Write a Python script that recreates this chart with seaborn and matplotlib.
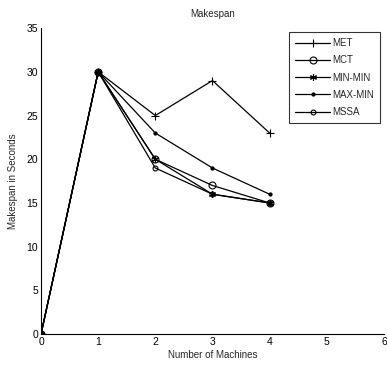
import matplotlib
matplotlib.use("Agg")
import matplotlib.pyplot as plt
import seaborn as sns
import pandas as pd

machines = [0, 1, 2, 3, 4]
met = [0, 30, 25, 29, 23]
mct = [0, 30, 20, 17, 15]
minmin = [0, 30, 20, 16, 15]
maxmin = [0, 30, 23, 19, 16]
mssa = [0, 30, 19, 16, 15]
series_names = ["MET", "MCT", "MIN-MIN", "MAX-MIN", "MSSA"]
series_values = [met, mct, minmin, maxmin, mssa]

rows = []
for name, vals in zip(series_names, series_values):
    for m, v in zip(machines, vals):
        rows.append({"Machines": m, "Makespan": v, "Algorithm": name})
df = pd.DataFrame(rows)

sns.set_theme(style="white")
plt.rcParams['font.family'] = ['Liberation Sans', 'DejaVu Sans']

fig = plt.figure(figsize=(3.87, 3.7), dpi=100)
ax = fig.add_axes([0.106, 0.097, 0.886, 0.827])

markers = {"MET": "+", "MCT": "o", "MIN-MIN": (6, 2, 0), "MAX-MIN": ".", "MSSA": "o"}
sizes_m = {"MET": 6, "MCT": 5, "MIN-MIN": 5, "MAX-MIN": 4.5, "MSSA": 3.5}
for name in series_names:
    sub = df[df.Algorithm == name]
    fill = name in ("MAX-MIN", "MIN-MIN")
    sns.lineplot(data=sub, x="Machines", y="Makespan", ax=ax, color="black",
                 marker=markers[name], markersize=sizes_m[name], linewidth=0.9,
                 markerfacecolor="black" if fill else "none",
                 markeredgecolor="black", markeredgewidth=0.8, label=name)

ax.set_xlim(0, 6)
ax.set_ylim(0, 35)
ax.set_xticks(range(0, 7))
ax.set_yticks(range(0, 36, 5))
ax.tick_params(direction="in", length=3, labelsize=7.5, colors="black", width=0.8, pad=2)
for s in ["top", "right"]:
    ax.spines[s].set_visible(False)
for s in ["left", "bottom"]:
    ax.spines[s].set_color("black")
    ax.spines[s].set_linewidth(0.8)
ax.set_title("Makespan", fontsize=7, pad=8)
ax.set_xlabel("Number of Machines", fontsize=7, labelpad=2)
ax.set_ylabel("Makespan in Seconds", fontsize=7, labelpad=6)
leg = ax.legend(loc="upper right", bbox_to_anchor=(0.988, 0.987), borderaxespad=0,
                fontsize=7, frameon=True, fancybox=False, edgecolor="black",
                handlelength=3.6, borderpad=0.6, labelspacing=0.75, handletextpad=0.2)
leg.get_frame().set_linewidth(0.8)
fig.savefig("out.png", dpi=100)
